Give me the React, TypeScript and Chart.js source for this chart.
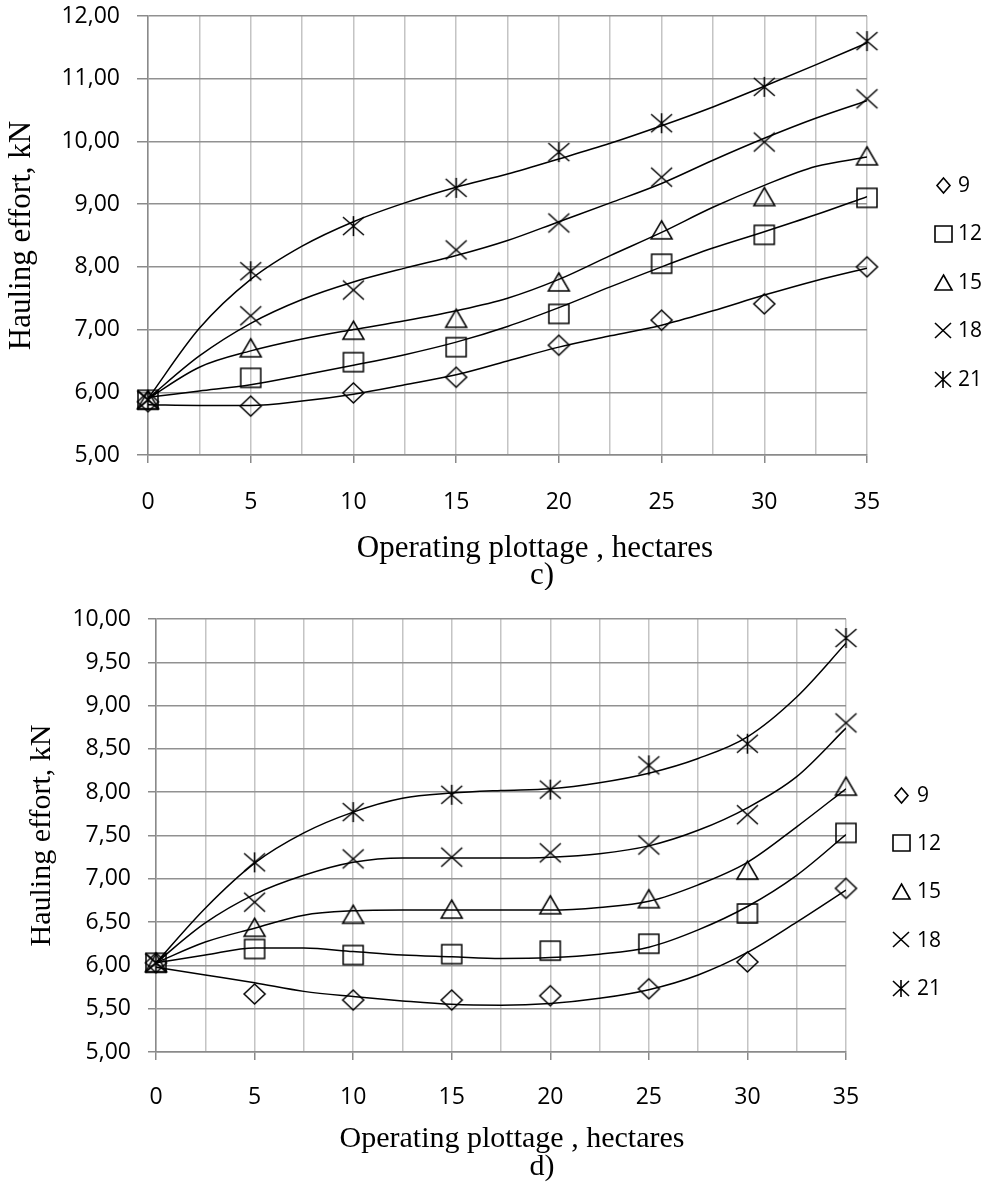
import React, { useEffect, useRef } from 'react';
import { Chart, registerables } from 'chart.js';

Chart.register(...registerables);

// ---------- data ----------
const xValues = [0, 5, 10, 15, 20, 25, 30, 35];
const trendX = [0, 2.5, 5, 7.5, 10, 12.5, 15, 17.5, 20, 22.5, 25, 27.5, 30, 32.5, 35];
const seriesNames = ['9', '12', '15', '18', '21'];
const markerKinds = ['diamond', 'square', 'triangle', 'cross', 'asterisk'];

const xGridValues = [0, 2.5, 5, 7.5, 10, 12.5, 15, 17.5, 20, 22.5, 25, 27.5, 30, 32.5, 35];
const xLabelValues = [0, 5, 10, 15, 20, 25, 30, 35];
const cYTicks = [5, 6, 7, 8, 9, 10, 11, 12];
const dYTicks = [5, 5.5, 6, 6.5, 7, 7.5, 8, 8.5, 9, 9.5, 10];

const yTitleText = 'Hauling effort, kN';
const xTitleText = 'Operating plottage , hectares';
const captionC = 'c)';
const captionD = 'd)';

// panel c) measured points
const c9 = [5.85, 5.78, 5.99, 6.24, 6.75, 7.15, 7.41, 8.0];
const c12 = [5.88, 6.23, 6.48, 6.72, 7.25, 8.05, 8.51, 9.1];
const c15 = [5.88, 6.71, 6.99, 7.18, 7.76, 8.59, 9.12, 9.77];
const c18 = [5.88, 7.22, 7.63, 8.27, 8.7, 9.43, 9.99, 10.68];
const c21 = [5.88, 7.93, 8.65, 9.26, 9.83, 10.29, 10.87, 11.6];
// panel c) trend lines (read off the picture)
const c9Trend = [5.8, 5.79, 5.79, 5.86, 5.97, 6.12, 6.28, 6.5, 6.72, 6.9, 7.07, 7.3, 7.55, 7.78, 7.98];
const c12Trend = [5.92, 6.02, 6.12, 6.27, 6.43, 6.6, 6.8, 7.05, 7.35, 7.68, 8.0, 8.3, 8.56, 8.83, 9.12];
const c15Trend = [5.9, 6.4, 6.66, 6.85, 7.0, 7.14, 7.3, 7.5, 7.8, 8.18, 8.55, 8.95, 9.3, 9.6, 9.75];
const c18Trend = [5.9, 6.58, 7.1, 7.48, 7.76, 7.98, 8.18, 8.42, 8.72, 9.02, 9.33, 9.7, 10.05, 10.37, 10.65];
const c21Trend = [5.9, 7.02, 7.8, 8.33, 8.72, 9.02, 9.27, 9.48, 9.72, 9.97, 10.25, 10.55, 10.88, 11.22, 11.57];

// panel d) measured points
const d9 = [6.03, 5.67, 5.6, 5.6, 5.65, 5.73, 6.04, 6.89];
const d12 = [6.03, 6.19, 6.12, 6.13, 6.17, 6.25, 6.6, 7.53];
const d15 = [6.03, 6.44, 6.59, 6.65, 6.7, 6.77, 7.1, 8.07];
const d18 = [6.03, 6.73, 7.23, 7.25, 7.3, 7.39, 7.74, 8.8];
const d21 = [6.03, 7.19, 7.77, 7.97, 8.03, 8.31, 8.56, 9.78];
// panel d) trend lines (read off the picture)
const d9Trend = [5.98, 5.89, 5.8, 5.7, 5.64, 5.59, 5.55, 5.54, 5.56, 5.62, 5.72, 5.89, 6.15, 6.5, 6.87];
const d12Trend = [6.03, 6.12, 6.2, 6.2, 6.16, 6.12, 6.1, 6.08, 6.09, 6.13, 6.21, 6.41, 6.68, 7.04, 7.51];
const d15Trend = [6.03, 6.27, 6.43, 6.58, 6.63, 6.64, 6.64, 6.64, 6.64, 6.67, 6.74, 6.93, 7.19, 7.6, 8.04];
const d18Trend = [6.03, 6.49, 6.82, 7.04, 7.19, 7.24, 7.24, 7.24, 7.25, 7.29, 7.38, 7.56, 7.82, 8.18, 8.74];
const d21Trend = [6.03, 6.66, 7.18, 7.53, 7.77, 7.93, 7.99, 8.02, 8.04, 8.11, 8.22, 8.39, 8.64, 9.1, 9.72];

// ---------- markers ----------
function makeMarker(kind: string, hw: number, hh: number, lw: number): HTMLCanvasElement {
  const pad = 3;
  const w = Math.ceil(hw * 2 + pad * 2);
  const h = Math.ceil(hh * 2 + pad * 2);
  const c = document.createElement('canvas');
  c.width = w;
  c.height = h;
  const g = c.getContext('2d')!;
  g.translate(w / 2, h / 2);
  g.strokeStyle = '#000';
  g.lineWidth = lw;
  g.lineJoin = 'miter';
  g.beginPath();
  if (kind === 'diamond') {
    g.moveTo(0, -hh); g.lineTo(hw, 0); g.lineTo(0, hh); g.lineTo(-hw, 0); g.closePath();
  } else if (kind === 'square') {
    g.rect(-hw, -hh, hw * 2, hh * 2);
  } else if (kind === 'triangle') {
    g.moveTo(0, -hh); g.lineTo(hw, hh); g.lineTo(-hw, hh); g.closePath();
  } else if (kind === 'cross') {
    g.moveTo(-hw, -hh); g.lineTo(hw, hh); g.moveTo(-hw, hh); g.lineTo(hw, -hh);
  } else {
    g.moveTo(-hw, -hh); g.lineTo(hw, hh); g.moveTo(-hw, hh); g.lineTo(hw, -hh);
    g.moveTo(0, -hh - 1); g.lineTo(0, hh + 1);
  }
  g.stroke();
  return c;
}

type PanelSpec = {
  series: number[][];
  trends: number[][];
  yTicks: number[];
  yMin: number;
  yMax: number;
  height: number;
  padTop: number;
  padRight: number;
  yAxisWidth: number;
  xAxisHeight: number;
  yTickLength: number;
  xTickPadding: number;
  yTitleSize: number;
  yTitlePad: number;
  textSize: number;
  caption: string;
  xTitleX: number;
  xTitleY: number;
  captionX: number;
  captionY: number;
  legendMarkerX: number;
  legendTextX: number;
  legendY0: number;
  legendDy: number;
};

const panelC: PanelSpec = {
  series: [c9, c12, c15, c18, c21],
  trends: [c9Trend, c12Trend, c15Trend, c18Trend, c21Trend],
  yTicks: cYTicks,
  yMin: 5,
  yMax: 12,
  height: 590,
  padTop: 16,
  padRight: 123,
  yAxisWidth: 148,
  xAxisHeight: 135,
  yTickLength: 11,
  xTickPadding: 26,
  yTitleSize: 31,
  yTitlePad: 3,
  textSize: 31,
  caption: captionC,
  xTitleX: 535,
  xTitleY: 557,
  captionX: 542,
  captionY: 584,
  legendMarkerX: 943,
  legendTextX: 958,
  legendY0: 185,
  legendDy: 48.5,
};

const panelD: PanelSpec = {
  series: [d9, d12, d15, d18, d21],
  trends: [d9Trend, d12Trend, d15Trend, d18Trend, d21Trend],
  yTicks: dYTicks,
  yMin: 5,
  yMax: 10,
  height: 594,
  padTop: 29,
  padRight: 144,
  yAxisWidth: 156,
  xAxisHeight: 132,
  yTickLength: 8,
  xTickPadding: 24,
  yTitleSize: 30,
  yTitlePad: 24,
  textSize: 30,
  caption: captionD,
  xTitleX: 512,
  xTitleY: 557,
  captionX: 542,
  captionY: 585,
  legendMarkerX: 901,
  legendTextX: 917,
  legendY0: 205,
  legendDy: 48.25,
};

const fmtY = (v: number) => v.toFixed(2).replace('.', ',');
const tickFont = { family: '"Open Sans", sans-serif', size: 23 };

function buildConfig(p: PanelSpec): any {
  const chartMarkers = markerKinds.map((k) => {
    if (k === 'diamond') return makeMarker(k, 10.5, 10, 1.5);
    if (k === 'square') return makeMarker(k, 10, 9.5, 1.5);
    if (k === 'triangle') return makeMarker(k, 10.5, 9, 1.5);
    if (k === 'cross') return makeMarker(k, 10.5, 9.5, 1.5);
    return makeMarker(k, 10.5, 9, 1.5);
  });
  const legendMarkers = markerKinds.map((k) => {
    if (k === 'diamond') return makeMarker(k, 6.5, 7.5, 1.6);
    if (k === 'square') return makeMarker(k, 8.5, 8, 1.6);
    if (k === 'triangle') return makeMarker(k, 8.5, 7.5, 1.6);
    if (k === 'cross') return makeMarker(k, 8, 7.5, 1.6);
    return makeMarker(k, 8, 7.5, 1.6);
  });

  const trendSets = p.trends.map((t, i) => ({
    label: 'trend ' + seriesNames[i],
    data: trendX.map((x, j) => ({ x, y: t[j] })),
    showLine: true,
    borderColor: '#000',
    borderWidth: 1.5,
    pointRadius: 0,
    cubicInterpolationMode: 'monotone',
    fill: false,
    order: 2,
  }));
  const markerSets = p.series.map((s, i) => ({
    label: seriesNames[i],
    data: xValues.map((x, j) => ({ x, y: s[j] })),
    showLine: false,
    pointStyle: chartMarkers[i],
    pointRadius: 10,
    borderColor: '#000',
    backgroundColor: 'transparent',
    clip: false,
    order: 1,
  }));

  const extras = {
    id: 'extras',
    afterDraw(chart: any) {
      const ctx = chart.ctx as CanvasRenderingContext2D;
      ctx.save();
      ctx.fillStyle = '#000';
      ctx.font = `${p.textSize}px "Liberation Serif", "Times New Roman", serif`;
      ctx.textAlign = 'center';
      ctx.textBaseline = 'alphabetic';
      ctx.fillText(xTitleText, p.xTitleX, p.xTitleY);
      ctx.fillText(p.caption, p.captionX, p.captionY);
      ctx.font = '21px "Open Sans", sans-serif';
      ctx.textAlign = 'left';
      ctx.textBaseline = 'middle';
      seriesNames.forEach((name, i) => {
        const y = p.legendY0 + i * p.legendDy;
        const img = legendMarkers[i];
        ctx.drawImage(img, Math.round(p.legendMarkerX - img.width / 2), Math.round(y - img.height / 2));
        ctx.fillText(name, p.legendTextX, y + 1);
      });
      ctx.restore();
    },
  };

  return {
    type: 'scatter',
    data: { datasets: [...trendSets, ...markerSets] },
    plugins: [extras],
    options: {
      responsive: false,
      animation: false,
      devicePixelRatio: 1,
      events: [],
      layout: { padding: { left: 0, top: p.padTop, right: p.padRight, bottom: 0 } },
      plugins: { legend: { display: false }, tooltip: { enabled: false } },
      scales: {
        x: {
          type: 'linear',
          min: 0,
          max: 35,
          afterBuildTicks: (s: any) => {
            s.ticks = xGridValues.map((v) => ({ value: v }));
          },
          afterFit: (s: any) => {
            s.height = p.xAxisHeight;
            s.paddingLeft = 0;
            s.paddingRight = 0;
          },
          grid: {
            color: '#c4c4c4',
            lineWidth: 1.5,
            tickLength: 8,
            tickColor: (ctx: any) =>
              ctx.tick && xLabelValues.includes(ctx.tick.value) ? '#8a8a8a' : 'rgba(0,0,0,0)',
            tickWidth: 1.5,
          },
          border: { color: '#8a8a8a', width: 1.5 },
          ticks: {
            autoSkip: false,
            maxRotation: 0,
            padding: p.xTickPadding,
            color: '#000',
            font: tickFont,
            callback: (v: number) => (xLabelValues.includes(v) ? String(v) : ''),
          },
        },
        y: {
          type: 'linear',
          min: p.yMin,
          max: p.yMax,
          afterBuildTicks: (s: any) => {
            s.ticks = p.yTicks.map((v) => ({ value: v }));
          },
          afterFit: (s: any) => {
            s.width = p.yAxisWidth;
            s.paddingTop = 0;
            s.paddingBottom = 0;
          },
          grid: {
            color: '#919191',
            lineWidth: 1.5,
            tickLength: p.yTickLength,
            tickColor: '#8a8a8a',
          },
          border: { color: '#8a8a8a', width: 1.5 },
          ticks: {
            padding: 17,
            color: '#000',
            font: tickFont,
            callback: (v: number) => fmtY(v),
          },
          title: {
            display: true,
            text: yTitleText,
            color: '#000',
            font: { family: '"Liberation Serif", "Times New Roman", serif', size: p.yTitleSize },
            padding: { top: p.yTitlePad, bottom: 0 },
          },
        },
      },
    },
  };
}

function Panel({ spec }: { spec: PanelSpec }) {
  const ref = useRef<HTMLCanvasElement>(null);
  useEffect(() => {
    const chart = new Chart(ref.current as HTMLCanvasElement, buildConfig(spec));
    return () => chart.destroy();
  }, [spec]);
  return (
    <canvas
      ref={ref}
      width={990}
      height={spec.height}
      style={{ display: 'block', width: 990, height: spec.height }}
    />
  );
}

export default function App() {
  return (
    <div style={{ position: 'absolute', left: 0, top: 0, width: 990, height: 1184, background: '#fff' }}>
      <Panel spec={panelC} />
      <Panel spec={panelD} />
    </div>
  );
}
